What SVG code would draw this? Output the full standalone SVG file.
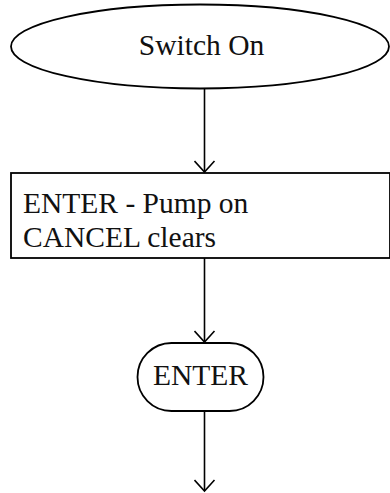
<svg xmlns="http://www.w3.org/2000/svg" width="390" height="493" viewBox="0 0 390 493">
  <style>
    .shape { fill: #ffffff; stroke: #000000; stroke-width: 1.8; }
    .label { font-family: "Liberation Serif", "DejaVu Serif", "Times New Roman", serif; font-size: 29.5px; fill: #111111; }
    .conn { stroke: #000000; stroke-width: 1.6; fill: none; }
  </style>
  <defs>
    <marker id="arrow" markerWidth="14" markerHeight="22" refX="12" refY="11" orient="auto" markerUnits="userSpaceOnUse" viewBox="0 0 14 22">
      <path d="M1,1 L12,11 L1,21" fill="none" stroke="#000" stroke-width="1.6"/>
    </marker>
  </defs>
  <rect width="390" height="493" fill="#ffffff"/>
  <g id="connectors">
    <line class="conn" x1="204.5" y1="89" x2="204.5" y2="172" marker-end="url(#arrow)"/>
    <line class="conn" x1="204.5" y1="258" x2="204.5" y2="342" marker-end="url(#arrow)"/>
    <line class="conn" x1="204.5" y1="411" x2="204.5" y2="491" marker-end="url(#arrow)"/>
  </g>
  <g id="switch-on">
    <ellipse class="shape" cx="200" cy="46.5" rx="189" ry="42"/>
    <text class="label" x="201.5" y="55" text-anchor="middle">Switch On</text>
  </g>
  <g id="enter-pump">
    <rect class="shape" x="11" y="173" width="379" height="85"/>
    <text class="label" x="23" y="213">ENTER - Pump on</text>
    <text class="label" x="23" y="247">CANCEL clears</text>
  </g>
  <g id="enter">
    <rect class="shape" x="137.5" y="343" width="126" height="68" rx="34" ry="34"/>
    <text class="label" x="200.5" y="385" text-anchor="middle">ENTER</text>
  </g>
</svg>
